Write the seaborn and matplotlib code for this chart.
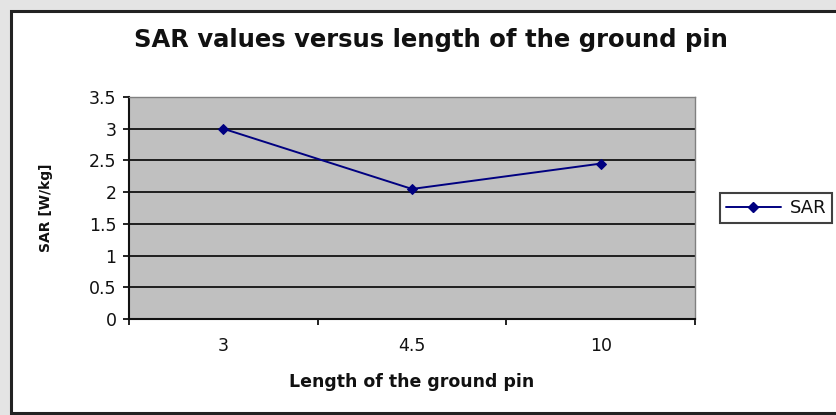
import matplotlib
matplotlib.use("Agg")
import matplotlib.pyplot as plt
import seaborn as sns
import pandas as pd
import numpy as np
from matplotlib.patches import Rectangle
from matplotlib.lines import Line2D

categories = ["3", "4.5", "10"]
sar_values = [3.0, 2.05, 2.45]
y_ticks = [0, 0.5, 1, 1.5, 2, 2.5, 3, 3.5]
y_tick_labels = ["0", "0.5", "1", "1.5", "2", "2.5", "3", "3.5"]

sns.set_theme(style="white")
plt.rcParams['font.family'] = ['DejaVu Sans']

TXT = "#111111"
W, H = 836, 415
fig = plt.figure(figsize=(W / 100, H / 100), dpi=100, facecolor="#e4e4e4")

# outer chart frame
frame = Rectangle((11 / W, 2 / H), 1.0, 402 / H, transform=fig.transFigure,
                  facecolor="white", edgecolor="#222222", linewidth=2.2, zorder=-10)
fig.patches.append(frame)

ax = fig.add_axes([129 / W, 1 - 319 / H, (695 - 129) / W, (319 - 97) / H])
ax.set_zorder(2)
ax.set_facecolor("#c0c0c0")

df = pd.DataFrame({"pos": np.arange(len(categories)), "SAR": sar_values})
sns.lineplot(data=df, x="pos", y="SAR", ax=ax, color="#000080", marker="D",
             markersize=5, linewidth=1.4, markeredgecolor="#000080", zorder=5)

ax.set_xlim(-0.5, len(categories) - 0.5)
ax.set_ylim(0, 3.5)
ax.set_yticks(y_ticks)
ax.set_yticklabels(y_tick_labels, fontsize=12.5, color=TXT)
for y in y_ticks[1:]:
    ax.axhline(y, color="#111111", linewidth=1.3, zorder=1)

ax.set_xticks(np.arange(len(categories)))
ax.set_xticklabels(categories, fontsize=12.5, color=TXT)
ax.set_xticks(np.arange(-0.5, len(categories)), minor=True)
ax.tick_params(axis="x", which="major", length=0, pad=13)
ax.tick_params(axis="x", which="minor", length=4, width=1.3, color="#111111", direction="out", bottom=True)
ax.tick_params(axis="y", length=4, width=1.3, color="#111111", direction="out", left=True, pad=5)

for side in ["top", "right"]:
    ax.spines[side].set_color("#808080")
    ax.spines[side].set_linewidth(1.0)
for side in ["left", "bottom"]:
    ax.spines[side].set_color("#111111")
    ax.spines[side].set_linewidth(1.5)

ax.set_xlabel("Length of the ground pin", fontsize=12.5, fontweight="bold", labelpad=13, color=TXT)
ax.set_ylabel("SAR [W/kg]", fontsize=10, fontweight="bold", color=TXT)
ax.yaxis.set_label_coords((53 - 129) / (695 - 129), 0.5)

fig.text(431 / W, 1 - 40 / H, "SAR values versus length of the ground pin",
         ha="center", va="center", fontsize=17.5, fontweight="bold", color=TXT)

handle = Line2D([], [], color="#000080", marker="D", markersize=5, linewidth=1.4)
leg = fig.legend([handle], ["SAR"], loc="center left",
                 bbox_to_anchor=(711 / W, 1 - 208 / H), fontsize=13,
                 frameon=True, fancybox=False, edgecolor="#111111",
                 handlelength=3.0, borderpad=0.35, handletextpad=0.5)
for t in leg.get_texts():
    t.set_color(TXT)
leg.get_frame().set_linewidth(1.5)

fig.savefig("out.png", dpi=100, facecolor=fig.get_facecolor())
